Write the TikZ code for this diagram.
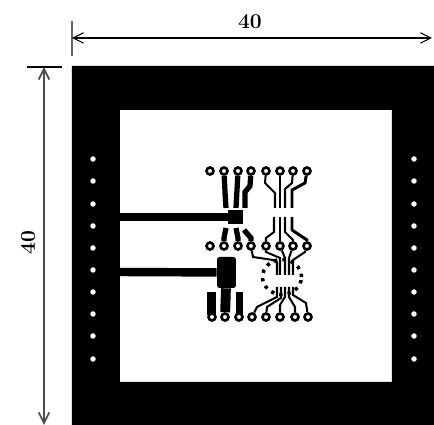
\documentclass[tikz,border=0pt]{standalone}
\usepackage{amsmath}
\usepackage{tikz}
\usetikzlibrary{shapes.geometric, arrows.meta}
\tikzset{
    pad/.style={draw, circle, fill=white, line width=1.5pt, minimum size=0.14cm, inner sep=0pt},
    hole/.style={circle, fill=white, minimum size=0.11cm, inner sep=0pt},
    thintrace/.style={line width=1.15pt},
    widetrace/.style={line width=3pt},
    dimline/.style={{Straight Barb[length=6pt, width=6pt]}-{Straight Barb[length=6pt, width=6pt]}, line width=0.6pt},
    tickline/.style={line width=0.9pt, black!60},
    bar/.style={fill, inner sep=0pt}
}

\begin{document}
\begin{tikzpicture}[x=0.02cm, y=-0.02cm]
        \useasboundingbox (0, 0) rectangle (434, 425);

        % substrate with window
        \fill[even odd rule] (72, 66) rectangle (434, 425) (120, 110) rectangle (392, 382);

        % via holes
        \foreach \y [count=\i] in {159, 181, 204, 226, 248, 270, 292, 314, 336, 359} {
            \node[hole] (vl\i) at (93, \y) {};
            \node[hole] (vr\i) at (414, \y) {};
        }

        % pads, three rows
        \foreach \x [count=\i] in {210, 224, 238, 251, 266, 280, 293, 307} {
            \node[pad] (t\i) at (\x, 171) {};
            \node[pad] (m\i) at (\x, 246) {};
        }
        \foreach \x [count=\i] in {212, 225, 239, 252, 266, 280, 295, 308} {
            \node[pad] (b\i) at (\x, 317) {};
        }

        % blocks
        \node[bar, minimum width=0.3cm, minimum height=0.28cm] (stub) at (235.5, 217) {};
        \node[bar, rounded corners=1.5pt, minimum width=0.38cm, minimum height=0.62cm] (power) at (226.5, 272.5) {};
        \node[bar, minimum width=0.18cm, minimum height=0.46cm] (barl) at (211.5, 303.5) {};
        \node[bar, minimum width=0.14cm, minimum height=0.46cm] (barr) at (240, 303.5) {};

        % feed lines
        \coordinate (feedtop) at (120, 217);
        \coordinate (feedlow) at (120, 272);
        \draw[line width=4.8pt] (feedtop) -- (stub);
        \draw[line width=4.8pt] (feedlow) -- (power);
        \draw[line width=5.6pt] (power) -- (b2);

        % wide traces round the stub
        \draw[widetrace] (t2) -- (225, 192) -- (226, 208);
        \draw[widetrace] (t3) -- (237, 190) -- (236, 208);
        \draw[widetrace] (t4) -- (250, 186) -- (245, 192) -- (245, 208);
        \draw[widetrace] (m2) -- (224, 238) -- (226, 228);
        \draw[widetrace] (m3) -- (238, 238) -- (236, 228);
        \draw[widetrace] (m4) -- (251, 238) -- (244, 230);

        % thin traces, upper group
        \draw[thintrace] (t5) -- (265, 183) -- (275, 193) -- (275, 208);
        \draw[thintrace] (t6) -- (280, 208);
        \draw[thintrace] (t7) -- (292, 183) -- (285, 189) -- (285, 208);
        \draw[thintrace, line width=1.7pt] (t8) -- (305, 183) -- (292, 190) -- (292, 208);
        \draw[thintrace] (m5) -- (266, 238) -- (274, 232) -- (274, 217);
        \draw[thintrace] (m6) -- (280, 217);
        \draw[thintrace] (m7) -- (293, 240) -- (285, 232) -- (285, 217);
        \draw[thintrace, line width=1.7pt] (m8) -- (307, 240) -- (292, 230) -- (292, 217);

        % thin traces, lower group
        \draw[thintrace] (m4) -- (253, 257) -- (273, 260) -- (277, 263) -- (277, 275);
        \draw[thintrace] (m5) -- (266, 252) -- (280, 258) -- (280, 275);
        \draw[thintrace] (m6) -- (285, 258) -- (285, 275);
        \draw[thintrace] (m7) -- (289, 258) -- (289, 275);
        \draw[thintrace] (m8) -- (305, 252) -- (293, 260) -- (293, 275);
        \draw[thintrace] (b4) -- (257, 307) -- (277, 297) -- (277, 287);
        \draw[thintrace] (b5) -- (267, 307) -- (281, 298) -- (281, 287);
        \draw[thintrace] (b6) -- (280, 305) -- (285, 297) -- (285, 287);
        \draw[thintrace] (b7) -- (295, 307) -- (289, 297) -- (289, 287);
        \draw[thintrace] (b8) -- (306, 303) -- (293, 295) -- (293, 287);

        % dotted circle
        \node[draw, ellipse, minimum width=0.78cm, minimum height=0.7cm, inner sep=0pt,
            line width=2pt, dash pattern=on 1.9pt off 2.9pt] (zone) at (282, 277) {};

        % dimension top
        \coordinate (topl) at (72, 38);
        \coordinate (topr) at (432, 38);
        \coordinate (tickta) at (72, 21);
        \coordinate (ticktb) at (72, 56);
        \draw[tickline] (tickta) -- (ticktb);
        \draw[dimline] (topl) -- (topr);
        \node (wlabel) at (250, 22) {\fontsize{12}{14}\selectfont\bfseries 40};

        % dimension left
        \coordinate (leftt) at (44, 67);
        \coordinate (leftb) at (44, 425);
        \coordinate (tickla) at (27, 67);
        \coordinate (ticklb) at (62, 67);
        \draw[line width=1.2pt] (tickla) -- (ticklb);
        \draw[dimline, line width=1pt, black!70] (leftt) -- (leftb);
        \node[rotate=90] (hlabel) at (28, 243) {\fontsize{12}{14}\selectfont\bfseries 40};
    \end{tikzpicture}
\end{document}
